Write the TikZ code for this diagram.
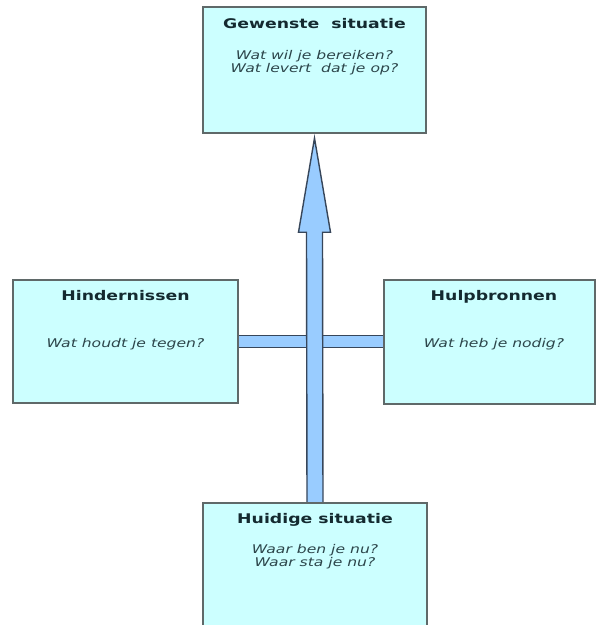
\documentclass[tikz,border=0pt]{standalone}
\usepackage{fontspec}
\newfontfamily\boxfont[FakeStretch=1.3]{DejaVu Sans}
\usetikzlibrary{calc}
\definecolor{boxfill}{RGB}{204,255,255}
\definecolor{boxedge}{RGB}{95,105,105}
\definecolor{titlecol}{RGB}{20,42,48}
\definecolor{qcol}{RGB}{45,70,75}
\definecolor{arrowfill}{RGB}{153,204,255}
\definecolor{arrowedge}{RGB}{55,70,90}
\begin{document}
\begin{tikzpicture}[x=1pt,y=-1pt,
  box/.style={draw=boxedge,fill=boxfill,line width=1.4pt,inner sep=0pt,rectangle},
  titletext/.style={anchor=base,inner sep=0pt,text=titlecol,font=\boxfont\bfseries\fontsize{13.3}{15}\selectfont},
  qtext/.style={anchor=base,inner sep=0pt,text=qcol,font=\boxfont\itshape\fontsize{12}{13}\selectfont},
  arrowbody/.style={draw=arrowedge,fill=arrowfill,line width=1.4pt,line join=miter}]
\clip (0,0) rectangle (597,625);
\fill[white] (0,0) rectangle (597,625);
% box geometry (named)
\path (314.5,70) node[minimum width=223pt,minimum height=126pt,inner sep=0pt] (gew) {};
\path (125.5,341.5) node[minimum width=225pt,minimum height=123pt,inner sep=0pt] (hind) {};
\path (489.5,342) node[minimum width=211pt,minimum height=124pt,inner sep=0pt] (hulp) {};
\path (315,572) node[minimum width=224pt,minimum height=138pt,inner sep=0pt] (huid) {};
% horizontal bar
\draw[line width=13.4pt,arrowedge] (hind.east) -- (hind.east -| hulp.west);
\draw[line width=10.6pt,arrowfill] ([xshift=-1pt]hind.east) -- ([xshift=1pt]hind.east -| hulp.west);
% vertical arrow
\coordinate (tip) at ([yshift=-5pt]gew.south);
\coordinate (hb) at ([yshift=-94pt]tip);
\draw[arrowbody] ([xshift=-8pt]huid.north) -- ([xshift=-8pt]hb) -- ([xshift=-16pt]hb) -- (tip)
  -- ([xshift=16pt]hb) -- ([xshift=8pt]hb) -- ([xshift=8pt]huid.north) -- cycle;
% boxes
\node[box,minimum width=223pt,minimum height=126pt] (gewB) at (gew) {};
\node[box,minimum width=225pt,minimum height=123pt] (hindB) at (hind) {};
\node[box,minimum width=211pt,minimum height=124pt] (hulpB) at (hulp) {};
\node[box,minimum width=224pt,minimum height=138pt] (huidB) at (huid) {};
% texts
\node[titletext] (gewT) at (314.5,28) {Gewenste\ \ situatie};
\node[qtext] (gewQ1) at (314.5,59) {Wat wil je bereiken?};
\node[qtext] (gewQ2) at (314.5,72) {Wat levert\ \ dat je op?};
\node[titletext] (hindT) at (125.5,300) {Hindernissen};
\node[qtext] (hindQ) at (125.5,347) {Wat houdt je tegen?};
\node[titletext] (hulpT) at (494,300) {Hulpbronnen};
\node[qtext] (hulpQ) at (494,347) {Wat heb je nodig?};
\node[titletext] (huidT) at (315,523) {Huidige situatie};
\node[qtext] (huidQ1) at (315,553) {Waar ben je nu?};
\node[qtext] (huidQ2) at (315,566) {Waar sta je nu?};
\end{tikzpicture}
\end{document}
